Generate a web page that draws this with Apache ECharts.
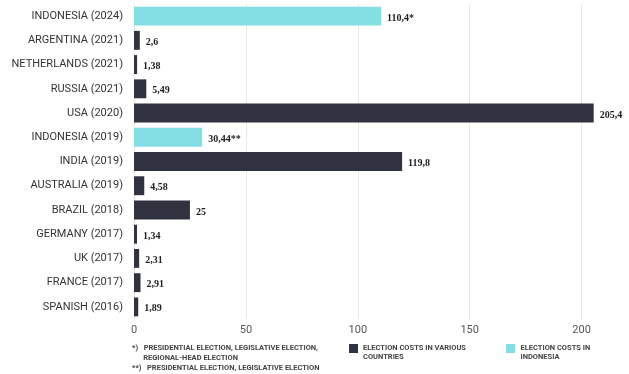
<!DOCTYPE html>
<html><head><meta charset="utf-8">
<script src="https://cdn.jsdelivr.net/npm/echarts@6/dist/echarts.min.js"></script>
<style>html,body{margin:0;padding:0;background:#fff}#c{width:629px;height:374px}</style>
</head><body><div id="c"></div>
<script>
const categories = ["INDONESIA (2024)","ARGENTINA (2021)","NETHERLANDS (2021)","RUSSIA (2021)","USA (2020)","INDONESIA (2019)","INDIA (2019)","AUSTRALIA (2019)","BRAZIL (2018)","GERMANY (2017)","UK (2017)","FRANCE (2017)","SPANISH (2016)"];
const values = [110.4, 2.6, 1.38, 5.49, 205.4, 30.44, 119.8, 4.58, 25, 1.34, 2.31, 2.91, 1.89];
const isIndonesia = [true,false,false,false,false,true,false,false,false,false,false,false,false];
const labelSuffix = ["*","","","","","**","","","","","","",""];
const xTicks = [0, 50, 100, 150, 200];
const seriesNames = ["ELECTION COSTS IN VARIOUS\nCOUNTRIES", "ELECTION COSTS IN\nINDONESIA"];
const footnotes = ["*)   PRESIDENTIAL ELECTION, LEGISLATIVE ELECTION,\n      REGIONAL-HEAD ELECTION", "**)   PRESIDENTIAL ELECTION, LEGISLATIVE ELECTION"];

const DARK = '#30333f', CYAN = '#84dfe5';
const fmt = (v, i) => String(v).replace('.', ',') + labelSuffix[i];
const label = {
  show: true, position: 'right', distance: 6, offset: [0, 2],
  fontFamily: 'Liberation Serif', fontWeight: 'bold', fontSize: 10, color: '#222',
  formatter: p => fmt(values[p.dataIndex], p.dataIndex)
};
const topSquare = 'path://M0,0h10v10h-10z M0,19.99h0.01v0.01h-0.01z';
const legendText = {fontSize: 7.5, fontWeight: 'bold', color: '#444', fontFamily: 'Roboto', lineHeight: 9};
const chart = echarts.init(document.getElementById('c'), null, {renderer: 'canvas'});
chart.setOption({
  animation: false,
  grid: {left: 134, right: 25, top: 4, bottom: 55, containLabel: false},
  xAxis: {
    type: 'value', min: 0, max: 210, interval: 50,
    axisLine: {show: false}, axisTick: {show: false},
    axisLabel: {color: '#555', fontSize: 11, fontFamily: 'Roboto', margin: 6, showMaxLabel: false,
      formatter: v => xTicks.includes(v) ? String(v) : ''},
    splitLine: {show: true, showMaxLine: false, lineStyle: {color: '#e6e6e6', width: 1}}
  },
  yAxis: {
    type: 'category', data: categories, inverse: true,
    axisLine: {show: false}, axisTick: {show: false},
    axisLabel: {color: '#333', fontSize: 11, fontFamily: 'Roboto', margin: 11}
  },
  legend: [
    {data: [seriesNames[0]], left: 349, top: 344, itemWidth: 9, itemHeight: 18, itemGap: 0, icon: topSquare, padding: 0, textStyle: legendText},
    {data: [seriesNames[1]], left: 506, top: 344, itemWidth: 10, itemHeight: 18, itemGap: 0, icon: topSquare, padding: 0, textStyle: legendText}
  ],
  graphic: [
    {type: 'text', left: 132, top: 343, style: {text: footnotes[0], fontSize: 7.5, fontWeight: 'bold', fill: '#444', fontFamily: 'Roboto', lineHeight: 10}},
    {type: 'text', left: 132, top: 363, style: {text: footnotes[1], fontSize: 7.5, fontWeight: 'bold', fill: '#444', fontFamily: 'Roboto', lineHeight: 10}}
  ],
  series: [
    {name: seriesNames[0], type: 'bar', barCategoryGap: '22%', barGap: '-100%',
     itemStyle: {color: DARK}, label,
     data: values.map((v, i) => isIndonesia[i] ? '-' : v)},
    {name: seriesNames[1], type: 'bar', barCategoryGap: '22%', barGap: '-100%',
     itemStyle: {color: CYAN}, label,
     data: values.map((v, i) => isIndonesia[i] ? v : '-')}
  ]
});
</script></body></html>
